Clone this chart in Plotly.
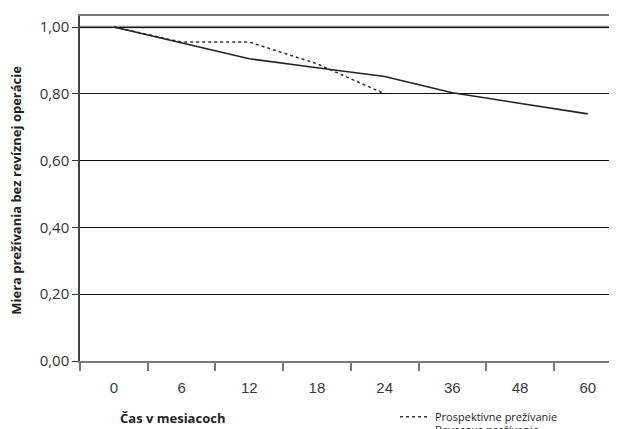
import plotly.graph_objects as go

months = ["0", "6", "12", "18", "24", "36", "48", "60"]
prospective = [1.00, 0.955, 0.955, 0.89, 0.80, None, None, None]
bayes = [1.00, 0.952, 0.905, 0.878, 0.852, 0.803, 0.771, 0.740]
y_ticks = [0.0, 0.2, 0.4, 0.6, 0.8, 1.0]

# figure geometry (the page adds an 8px body margin)
L, T, W, H = 72, 8, 617, 429
PLOT_W = W - L
BOTTOM = 353.5
PLOT_H = BOTTOM - T


def px_x(x):
    return (x - L) / PLOT_W


def px_y(y):
    return (BOTTOM - y) / PLOT_H


fig = go.Figure()
fig.add_trace(go.Scatter(
    x=months, y=prospective, mode="lines", name="Prospektívne prežívanie",
    line=dict(color="#333333", width=1.5, dash="3px,3px"), legend="legend",
))
fig.add_trace(go.Scatter(
    x=months, y=bayes, mode="lines", name="Bayesove prežívanie",
    line=dict(color="#222222", width=1.6), legend="legend2",
))

fig.add_shape(type="line", xref="paper", x0=0, x1=1, yref="y", y0=1.0, y1=1.0,
              line=dict(color="#8f8f8f", width=2.5), layer="between")

fig.update_layout(
    width=W, height=H,
    margin=dict(l=L, r=0, t=T, b=H - BOTTOM, autoexpand=False),
    paper_bgcolor="white", plot_bgcolor="white",
    separators=",.",
    showlegend=True,
    font=dict(family="Open Sans", color="#222222"),
    xaxis=dict(
        type="category", categoryorder="array", categoryarray=months,
        range=[-0.5, 7.55], tickson="boundaries",
        ticks="outside", ticklen=8, tickwidth=1.5, tickcolor="#777777",
        showline=True, linecolor="#7a7a7a", linewidth=2, mirror=True,
        showgrid=False, zeroline=False,
        tickfont=dict(family="Liberation Sans", size=15, color="#3a3a3a"),
        ticklabelstandoff=12,
    ),
    yaxis=dict(
        range=[0, 1.033], tickvals=y_ticks, tickformat=".2f",
        ticks="outside", ticklen=6, tickwidth=1, tickcolor="#333333",
        showline=True, linecolor="#444444", linewidth=1.5,
        showgrid=True, gridcolor="#111111", gridwidth=1, zeroline=False,
        tickfont=dict(family="Open Sans", size=15, color="#333333"),
    ),
    legend=dict(x=px_x(387), xanchor="left", y=px_y(394.7), yanchor="top",
                font=dict(family="Open Sans", size=11, color="#222222"),
                bgcolor="rgba(0,0,0,0)", itemwidth=30),
    legend2=dict(x=px_x(387), xanchor="left", y=px_y(408), yanchor="top",
                 font=dict(family="Open Sans", size=11, color="#222222"),
                 bgcolor="rgba(0,0,0,0)", itemwidth=30),
    annotations=[
        dict(text="<b>Čas v mesiacoch</b>", xref="paper", yref="paper",
             x=px_x(164.5), y=px_y(411), xanchor="center", yanchor="middle",
             showarrow=False, font=dict(family="Open Sans", size=13, color="#222222")),
        dict(text="<b>Miera prežívania bez revíznej operácie</b>", xref="paper", yref="paper",
             x=px_x(8), y=px_y(183), xanchor="center", yanchor="middle",
             textangle=-90, showarrow=False,
             font=dict(family="Open Sans", size=13, color="#222222")),
    ],
)

fig.write_html("out.html")
